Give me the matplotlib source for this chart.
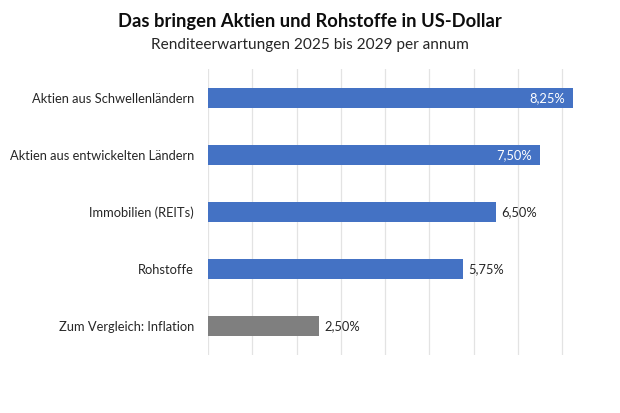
import matplotlib
matplotlib.use("Agg")
import matplotlib.pyplot as plt

categories = ["Aktien aus Schwellenländern", "Aktien aus entwickelten Ländern",
              "Immobilien (REITs)", "Rohstoffe", "Zum Vergleich: Inflation"]
values = [8.25, 7.50, 6.50, 5.75, 2.50]
colors = ["#4472C4", "#4472C4", "#4472C4", "#4472C4", "#7F7F7F"]
title = "Das bringen Aktien und Rohstoffe in US-Dollar"
subtitle = "Renditeerwartungen 2025 bis 2029 per annum"

plt.rcParams['font.family'] = ['Lato', 'DejaVu Sans']

fig = plt.figure(figsize=(6.2, 4.13), dpi=100)
ax = fig.add_axes([208/620, 1-355/413, (580-208)/620, (355-69.4)/413])

n = len(categories)
ypos = list(range(n-1, -1, -1))
ax.barh(ypos, values, height=0.35, color=colors, zorder=3)
ax.set_ylim(-0.5, n-0.5)
ax.set_xlim(0, 8.4)
ax.set_yticks(ypos)
ax.set_yticklabels(categories, fontsize=9.3, color="#262626")
ax.tick_params(axis='y', length=0, pad=10)
ax.set_xticks(range(0, 9))
ax.tick_params(axis='x', length=0, labelbottom=False)
ax.grid(axis='x', color="#E3E3E3", linewidth=0.9, zorder=0)
for s in ax.spines.values():
    s.set_visible(False)

for y, v in zip(ypos, values):
    lab = f"{v:.2f}%".replace(".", ",")
    if v > 7:
        ax.annotate(lab, (v, y), xytext=(-6, 0), textcoords="offset points",
                    ha="right", va="center", color="white", fontsize=9.3, zorder=4)
    else:
        ax.annotate(lab, (v, y), xytext=(4, 0), textcoords="offset points",
                    ha="left", va="center", color="#262626", fontsize=9.3, zorder=4)

fig.text(0.5, 1-22/413, title, ha="center", va="center", fontsize=13.2, fontweight="bold", color="#0D0D0D")
fig.text(0.5, 1-45/413, subtitle, ha="center", va="center", fontsize=11.1, color="#262626")

fig.savefig("out.png", dpi=100, facecolor="white")
